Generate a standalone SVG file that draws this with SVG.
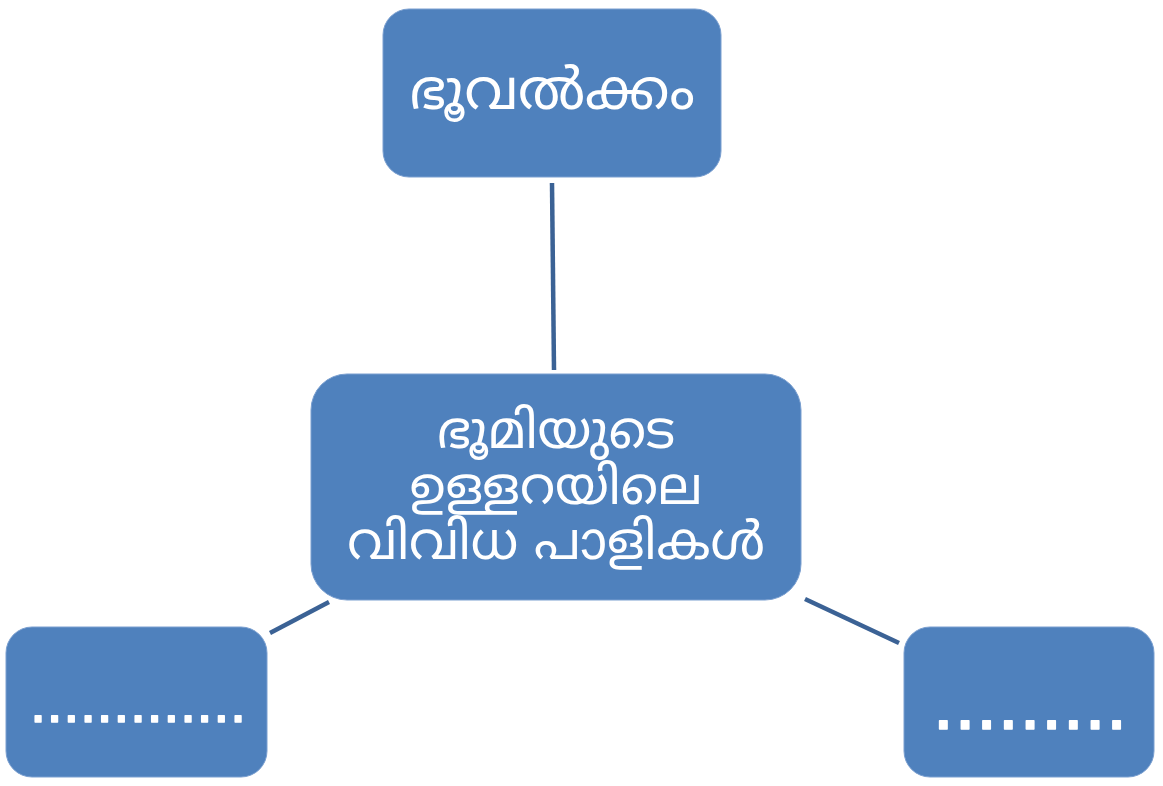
<svg xmlns="http://www.w3.org/2000/svg" width="1163" height="786" viewBox="0 0 1163 786">
<style>
.box{fill:#4f81bd;stroke:#7a9fd0;stroke-width:1}
.lbl{fill:#fff;font-family:"Noto Sans Malayalam","Noto Sans","DejaVu Sans",sans-serif;text-anchor:middle}
.dots{fill:#fff;stroke:#fff;stroke-width:1.5;stroke-linejoin:round;font-family:"Liberation Sans",Arial,sans-serif;text-anchor:middle}
.conn{stroke:#3b6295;stroke-width:4.5;fill:none}
</style>
<rect width="1163" height="786" fill="#fff"/>
<g id="connectors">
<line class="conn" x1="552" y1="183" x2="554" y2="370"/>
<line class="conn" x1="270" y1="633" x2="329" y2="602"/>
<line class="conn" x1="805" y1="599" x2="899" y2="643"/>
</g>
<g id="node-top">
<rect class="box" x="383" y="9" width="338" height="168" rx="26"/>
<text class="lbl" x="552" y="109" font-size="56">ഭൂവൽക്കം</text>
</g>
<g id="node-center">
<rect class="box" x="311" y="374" width="490" height="226" rx="36"/>
<text class="lbl" font-size="52"><tspan x="556" y="448">ഭൂമിയുടെ</tspan><tspan x="556" y="504">ഉള്ളറയിലെ</tspan><tspan x="556" y="559">വിവിധ പാളികൾ</tspan></text>
</g>
<g id="node-left">
<rect class="box" x="6" y="627" width="261" height="150" rx="26"/>
<text class="dots" x="138" y="722" font-size="60">.............</text>
</g>
<g id="node-right">
<rect class="box" x="904" y="627" width="250" height="150" rx="26"/>
<text class="dots" x="1030" y="729" font-size="78">.........</text>
</g>
</svg>
